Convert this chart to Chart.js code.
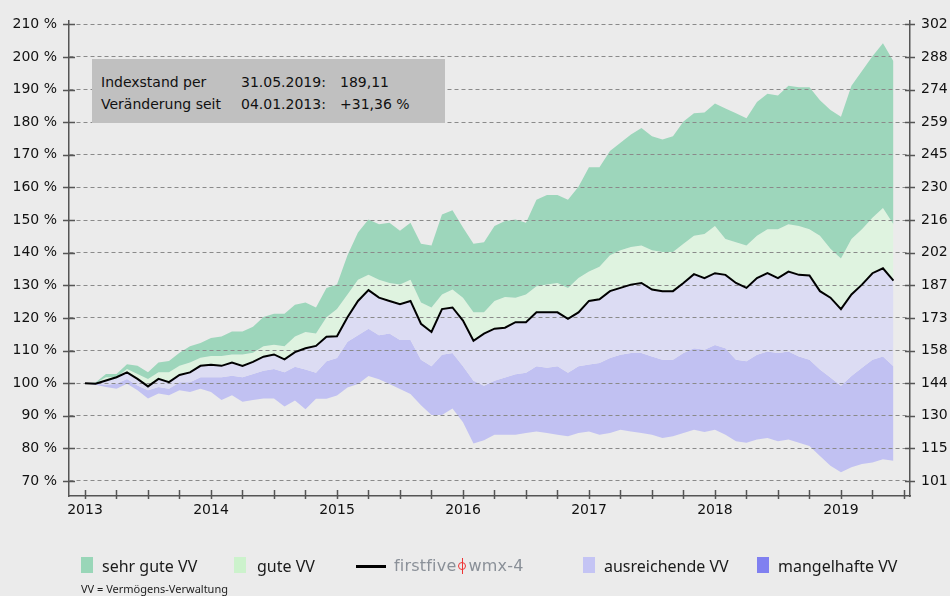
<!DOCTYPE html>
<html>
<head>
<meta charset="utf-8">
<script src="https://cdn.jsdelivr.net/npm/chart.js@4.4.1/dist/chart.umd.min.js"></script>
<style>
html, body { margin: 0; padding: 0; background: #ebebeb; }
#wrap { position: relative; width: 950px; height: 596px; overflow: hidden; }
#c { position: absolute; left: 0; top: 0; }
.info { position: absolute; left: 92px; top: 59px; width: 353px; height: 64px; background: #c0c0c0;
        font: 14px "DejaVu Sans", sans-serif; color: #111; }
.info span { position: absolute; line-height: 20px; white-space: nowrap; }
.lg { position: absolute; font: 16px "Noto Sans", sans-serif; color: #1a1a1a; line-height: 20px; white-space: nowrap; }
.sw { position: absolute; width: 12px; height: 16px; top: 557px; }
.note { position: absolute; left: 81px; top: 581px; font: 11px "Noto Sans", sans-serif; color: #222; white-space: nowrap; }
.logo { position: absolute; left: 394px; top: 556px; font: 16px "DejaVu Sans", sans-serif; color: #8a9098;
        letter-spacing: 0.2px; line-height: 20px; white-space: nowrap; }
.sym { display: inline-block; position: relative; width: 10px; height: 16px; vertical-align: -3px; margin: 0 1px; }
.sym:before { content: ""; position: absolute; left: 1px; top: 4px; width: 6px; height: 6px; border: 1.5px solid #e33; border-radius: 50%; }
.sym:after { content: ""; position: absolute; left: 4.5px; top: 0; width: 1.5px; height: 16px; background: #e33; }
</style>
</head>
<body>
<div id="wrap">
  <canvas id="c" width="950" height="596"></canvas>
  <div class="info">
    <span style="left:9px;top:13px">Indexstand per</span>
    <span style="left:149px;top:13px">31.05.2019:</span>
    <span style="left:248px;top:13px">189,11</span>
    <span style="left:9px;top:35px">Veränderung seit</span>
    <span style="left:149px;top:35px">04.01.2013:</span>
    <span style="left:248px;top:35px">+31,36 %</span>
  </div>
  <div class="sw" style="left:81px;background:#99d6b8"></div>
  <div class="lg" style="left:102px;top:556px">sehr gute VV</div>
  <div class="sw" style="left:234px;background:#ccf2cc"></div>
  <div class="lg" style="left:257px;top:556px">gute VV</div>
  <div style="position:absolute;left:356px;top:565px;width:30px;height:3px;background:#000"></div>
  <div class="logo">firstfive<span class="sym"></span>wmx-4</div>
  <div class="sw" style="left:583px;background:#c4c4f4"></div>
  <div class="lg" style="left:604px;top:556px">ausreichende VV</div>
  <div class="sw" style="left:757px;background:#8080f0"></div>
  <div class="lg" style="left:778px;top:556px">mangelhafte VV</div>
  <div class="note">VV = Vermögens-Verwaltung</div>
</div>
<script>
// Monatswerte ab Januar 2013 (Index 04.01.2013 = 100 %)
const startYear = 2013;

const sehrGuteOben = [100, 100.2, 102.8, 102.8, 105.8, 105.3, 103.3, 106.3, 106.8, 109.3, 111.3, 112.3,
  113.8, 114.3, 115.8, 115.8, 117.3, 120.3, 121.3, 121.3, 124.0, 124.7, 123.2, 129.2,
  130.2, 139.2, 146.2, 150.2, 148.7, 149.2, 146.7, 149.2, 142.7, 142.2, 151.7, 153.0,
  147.7, 142.7, 143.2, 148.2, 149.7, 150.2, 149.2, 156.2, 157.7, 157.7, 156.2, 160.2,
  166.2, 166.2, 171.2, 173.7, 176.2, 178.2, 175.7, 174.7, 175.7, 180.2, 182.7, 183.0,
  185.7, 184.2, 182.7, 181.2, 186.2, 188.7, 188.2, 191.2, 190.7, 190.7, 186.7, 183.7,
  181.7, 191.2, 195.7, 200.2, 204.2, 198.7];

const guteOben = [100, 100, 101.8, 101.8, 104.3, 102.8, 101.3, 103.3, 103.3, 105.3, 106.3, 107.8,
  108.3, 108.3, 108.8, 108.8, 109.3, 111.3, 111.8, 111.3, 114.3, 115.7, 115.2, 120.2,
  122.7, 127.2, 131.7, 133.2, 131.7, 130.7, 130.2, 131.7, 124.7, 123.2, 127.2, 128.7,
  126.2, 121.7, 121.7, 125.2, 126.4, 126.2, 127.2, 129.7, 130.2, 130.7, 129.2, 132.2,
  134.2, 135.7, 139.2, 140.7, 141.7, 142.2, 140.7, 140.2, 140.2, 142.7, 145.2, 145.7,
  148.2, 144.2, 143.2, 142.2, 145.2, 147.2, 147.2, 148.7, 148.2, 147.2, 145.2, 141.2,
  138.2, 144.2, 147.2, 150.7, 153.7, 148.7];

const firstfive = [100.0, 99.8, 100.8, 101.8, 103.3, 101.3, 99.0, 101.3, 100.3, 102.5, 103.3, 105.3,
  105.6, 105.3, 106.3, 105.3, 106.5, 108.1, 108.8, 107.3, 109.5, 110.7, 111.4, 114.2,
  114.4, 120.2, 125.2, 128.5, 126.2, 125.2, 124.2, 125.2, 118.2, 115.7, 122.7, 123.2,
  119.2, 113.0, 115.2, 116.7, 117.0, 118.7, 118.7, 121.7, 121.7, 121.7, 119.7, 121.7,
  125.2, 125.7, 128.2, 129.2, 130.2, 130.7, 128.7, 128.2, 128.2, 130.7, 133.4, 132.2,
  133.7, 133.2, 130.7, 129.2, 132.2, 133.7, 132.2, 134.2, 133.2, 133.0, 128.2, 126.2,
  122.7, 127.2, 130.2, 133.7, 135.2, 131.4];

const mangelhaftOben = [100, 99.8, 99.5, 99.8, 101.3, 99.3, 97.8, 98.8, 98.3, 100.3, 100.3, 101.8,
  101.8, 101.8, 102.3, 101.8, 102.8, 103.8, 104.3, 103.3, 105.0, 104.2, 103.2, 106.7,
  107.7, 112.7, 114.7, 116.7, 114.7, 115.2, 113.2, 113.2, 107.2, 105.2, 108.7, 109.2,
  105.2, 100.7, 99.2, 100.7, 101.7, 102.7, 103.2, 105.2, 104.7, 105.2, 103.2, 105.2,
  105.7, 106.2, 107.7, 108.7, 109.2, 109.2, 108.2, 107.2, 107.2, 109.2, 110.7, 110.2,
  111.7, 110.7, 107.2, 106.7, 108.7, 109.7, 109.2, 109.7, 108.2, 107.2, 104.2, 101.7,
  99.2, 102.2, 104.7, 107.2, 108.2, 105.2];

const mangelhaftUnten = [100, 99.5, 98.8, 98.3, 99.8, 97.8, 95.3, 96.8, 96.3, 97.8, 97.3, 98.3,
  97.3, 94.8, 96.3, 94.3, 94.8, 95.3, 95.3, 92.8, 94.7, 92.0, 95.2, 95.2,
  96.2, 98.7, 99.7, 102.2, 101.2, 99.7, 98.2, 96.7, 93.2, 90.2, 90.2, 92.2,
  88.0, 81.5, 82.5, 84.2, 84.2, 84.2, 84.7, 85.2, 84.7, 84.2, 83.7, 84.7,
  85.2, 84.2, 84.7, 85.7, 85.2, 84.7, 84.2, 83.2, 83.7, 84.7, 85.7, 85.0,
  85.7, 84.2, 82.2, 81.7, 82.7, 83.2, 82.2, 82.7, 81.7, 80.7, 77.7, 74.7,
  72.7, 74.2, 75.2, 75.7, 76.7, 76.2];

const leftTicks = [70, 80, 90, 100, 110, 120, 130, 140, 150, 160, 170, 180, 190, 200, 210];
const rightTickLabels = ['101', '115', '130', '144', '158', '173', '187', '202', '216', '230', '245', '259', '274', '288', '302'];
const xTicks = [2013, 2013.25, 2013.5, 2013.75, 2014, 2014.25, 2014.5, 2014.75, 2015, 2015.25, 2015.5, 2015.75,
  2016, 2016.25, 2016.5, 2016.75, 2017, 2017.25, 2017.5, 2017.75, 2018, 2018.25, 2018.5, 2018.75,
  2019, 2019.25, 2019.5];

function pts(arr) {
  return arr.map((v, i) => ({ x: startYear + i / 12, y: v }));
}

const tickFont = { family: 'DejaVu Sans', size: 14 };
const yMin = 65.4, yMax = 211.2;

// Tickstriche über die Achsen (innen und außen)
const axisTicks = {
  id: 'axisTicks',
  afterDraw(chart) {
    const { ctx, chartArea: a, scales } = chart;
    ctx.save();
    ctx.strokeStyle = '#555';
    ctx.lineWidth = 1.5;
    ctx.beginPath();
    scales.y.ticks.forEach(t => {
      const p = Math.round(scales.y.getPixelForValue(t.value)) + 0.5;
      ctx.moveTo(a.left - 6, p); ctx.lineTo(a.left + 6, p);
      ctx.moveTo(a.right - 5, p); ctx.lineTo(a.right + 5, p);
    });
    scales.x.ticks.forEach(t => {
      const p = Math.round(scales.x.getPixelForValue(t.value)) + 0.5;
      ctx.moveTo(p, a.bottom - 6); ctx.lineTo(p, a.bottom + 3);
    });
    ctx.stroke();
    ctx.restore();
  }
};

const band = (label, data, color, target) => ({
  label: label, data: pts(data), backgroundColor: color, borderColor: 'rgba(0,0,0,0)',
  borderWidth: 0, pointRadius: 0, fill: target, tension: 0, order: 1
});

new Chart(document.getElementById('c'), {
  type: 'line',
  data: {
    datasets: [
      band('sehr gute VV', sehrGuteOben, '#9dd6bb', 1),
      band('gute VV', guteOben, '#dff3e0', 2),
      band('ausreichende VV', firstfive, '#dcdcf3', 3),
      band('mangelhafte VV', mangelhaftOben, '#c1c1f2', 4),
      band('Untergrenze', mangelhaftUnten, 'rgba(0,0,0,0)', false),
      {
        label: 'firstfive wmx-4', data: pts(firstfive), borderColor: '#000', borderWidth: 2,
        pointRadius: 0, fill: false, tension: 0, order: -1
      }
    ]
  },
  options: {
    responsive: false,
    animation: false,
    devicePixelRatio: 1,
    layout: { padding: { top: 10, bottom: 70, left: 0, right: 0 } },
    plugins: {
      legend: { display: false },
      tooltip: { enabled: false },
      filler: { drawTime: 'beforeDraw' }
    },
    scales: {
      x: {
        type: 'linear', min: 2012.873, max: 2019.548,
        afterBuildTicks: s => { s.ticks = xTicks.map(v => ({ value: v })); },
        afterFit: s => { s.height = 30; },
        ticks: {
          callback: v => Number.isInteger(v) ? String(v) : '',
          font: tickFont, color: '#111', padding: 6, autoSkip: false, maxRotation: 0
        },
        grid: { display: false, drawTicks: false },
        border: { display: true, color: '#555', width: 1.5 }
      },
      y: {
        position: 'left', min: yMin, max: yMax,
        afterBuildTicks: s => { s.ticks = leftTicks.map(v => ({ value: v })); },
        afterFit: s => { s.width = 69; },
        ticks: { callback: v => v + ' %', font: tickFont, color: '#111', padding: 12 },
        grid: { color: '#8a8a8a', lineWidth: 1, drawTicks: false },
        border: { display: true, color: '#555', width: 1.5, dash: [4, 3] }
      },
      y2: {
        position: 'right', min: yMin, max: yMax,
        afterBuildTicks: s => { s.ticks = leftTicks.map(v => ({ value: v })); },
        afterFit: s => { s.width = 40; },
        ticks: { callback: (v, i) => rightTickLabels[i], font: tickFont, color: '#111', padding: 11 },
        grid: { display: false, drawTicks: false },
        border: { display: true, color: '#555', width: 1.5 }
      }
    }
  },
  plugins: [axisTicks]
});
</script>
</body>
</html>
